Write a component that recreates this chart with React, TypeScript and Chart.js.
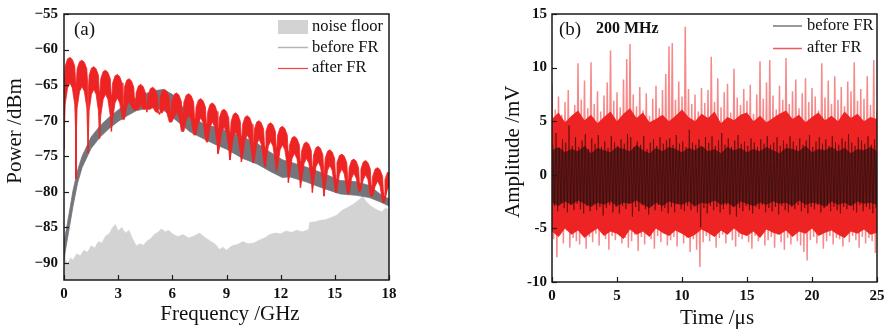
import React, { useEffect, useRef } from "react";
import { Chart, registerables } from "chart.js";
Chart.register(...registerables);

const SERIF = '"Liberation Serif", "Times New Roman", serif';

// ---------------- Panel (a): spectra ----------------
const freqTicks = [0, 3, 6, 9, 12, 15, 18];
const powerTicks = [-90, -85, -80, -75, -70, -65, -60, -55];

const noiseFreq = [0, 0.08, 0.2, 0.35, 0.5, 0.7, 0.9, 1.1, 1.3, 1.5, 1.7, 1.9, 2.1, 2.3, 2.5, 2.7, 2.85, 3.0, 3.2, 3.4, 3.6, 3.8, 4.0, 4.2, 4.4, 4.6, 4.8, 5.0, 5.2, 5.4, 5.6, 5.8, 6.0, 6.3, 6.6, 6.9, 7.2, 7.5, 7.8, 8.1, 8.4, 8.6, 8.8, 9.0, 9.3, 9.6, 9.9, 10.2, 10.5, 10.8, 11.1, 11.4, 11.7, 12.0, 12.3, 12.6, 12.9, 13.2, 13.55, 13.6, 13.9, 14.2, 14.5, 14.8, 15.1, 15.4, 15.7, 16.0, 16.3, 16.55, 16.75, 17.0, 17.3, 17.6, 17.8, 18.0];
const noiseLevel = [-87.2, -89.5, -90.1, -89.3, -89.6, -88.7, -89.0, -88.2, -88.5, -87.6, -87.9, -87.0, -87.2, -86.2, -85.9, -85.0, -84.6, -85.5, -85.0, -85.8, -85.4, -86.6, -87.6, -87.3, -87.5, -86.9, -86.6, -86.0, -85.7, -85.2, -85.6, -85.4, -85.9, -86.3, -86.0, -86.5, -86.2, -85.8, -86.4, -86.9, -87.4, -88.1, -87.8, -88.2, -87.6, -87.4, -87.0, -87.3, -87.2, -86.8, -86.5, -86.0, -85.8, -85.9, -85.5, -85.7, -85.4, -85.6, -85.3, -84.3, -84.2, -84.0, -83.9, -83.6, -83.3, -82.6, -82.2, -81.8, -81.2, -80.7, -81.4, -82.0, -82.5, -82.8, -82.3, -82.5];

const beforeFreq = [0, 0.15, 0.3, 0.5, 0.75, 1.0, 1.5, 2.0, 2.5, 3.0, 3.5, 4.0, 4.5, 5.0, 5.5, 6.0, 7.0, 7.7, 8.35, 9.0, 9.9, 10.7, 11.4, 12.1, 12.5, 13.4, 14.35, 15.3, 16.2, 16.9, 17.5, 18];
const beforeUpper = [-87, -85, -82.8, -79.8, -77, -75, -72.3, -70.7, -69.5, -68.5, -67.5, -66.8, -66.2, -65.8, -65.6, -66.3, -69.4, -70.4, -70.9, -71.4, -72.3, -73.2, -74.4, -75.5, -75.8, -76.5, -77.4, -78.4, -78.6, -79.1, -80.3, -81];
const beforeLower = [-89.5, -87.2, -85, -82, -78.8, -76.6, -73.9, -72.3, -71.1, -70.1, -69.3, -68.6, -68.3, -68.2, -68.5, -69.5, -71.6, -72.5, -73.3, -74, -75.3, -76.1, -77.1, -78, -77.9, -78.6, -79.5, -80.3, -80.5, -80.8, -81.4, -82];

// after FR: comb notches and lobe envelopes
const dipFreq = [0.66, 1.33, 1.97, 2.63, 3.28, 3.93, 4.58, 5.25, 5.9, 6.57, 7.25, 7.9, 8.54, 9.19, 9.83, 10.48, 11.12, 11.77, 12.43, 13.1, 13.76, 14.4, 15.05, 15.73, 16.38, 17.03, 17.71];
const dipLevel = [-78.2, -74.5, -72.5, -71.5, -69.8, -68.5, -68.4, -68.9, -70.2, -71.5, -72.0, -73.0, -74.6, -75.5, -75.8, -75.9, -76.4, -77.1, -78.7, -79.4, -80.1, -80.6, -80.1, -80.3, -79.9, -80.6, -81.5];
const lobeTop = [-61.1, -61.5, -62.4, -62.9, -63.5, -64.1, -64.9, -65.3, -65.6, -66.1, -66.2, -66.9, -67.5, -68.4, -68.9, -69.3, -70.0, -70.3, -70.8, -72.2, -73.0, -73.6, -74.1, -74.7, -75.4, -75.6, -76.6, -77.1];
const lobeBase = [-64.7, -65.2, -65.6, -66.3, -66.8, -67.3, -67.7, -68.0, -68.3, -68.8, -69.2, -69.6, -70.2, -70.9, -71.6, -72.0, -72.6, -72.9, -73.4, -74.6, -75.3, -75.8, -76.3, -76.8, -77.4, -77.6, -78.5, -79.0];
const afterStartLevel = -74;
const lobePeriod = 0.656;

// ---------------- Panel (b): time traces ----------------
const timeTicks = [0, 5, 10, 15, 20, 25];
const ampTicks = [-10, -5, 0, 5, 10, 15];
const sampleStep = 0.25; // µs between listed extremes
const coreStep = 0.5; // µs between listed core-envelope values

const afterPeakHi = [
  8.4, 6.1, 7.3, 5.6, 6.8, 7.9, 5.2, 6.5, 10.4, 7.0, 8.8, 6.2, 10.5, 6.6, 7.8, 5.9,
  7.4, 8.6, 11.6, 6.9, 7.7, 6.3, 8.9, 10.8, 12.2, 7.5, 6.4, 8.2, 6.0, 7.6, 5.5, 7.1,
  8.3, 6.2, 7.9, 9.4, 12.0, 12.3, 7.0, 8.7, 7.3, 13.8, 8.0, 6.6, 7.5, 5.9, 8.1, 6.7,
  7.9, 11.0, 6.8, 9.0, 6.3, 7.7, 8.5, 5.8, 9.9, 7.2, 6.5, 8.0, 6.9, 8.4, 5.7, 7.5,
  10.6, 7.1, 8.6, 10.7, 7.4, 6.1, 8.3, 7.0, 10.9, 6.6, 7.8, 8.9, 6.2, 7.6, 9.0, 6.8,
  8.1, 7.3, 6.0, 10.4, 7.2, 8.8, 6.6, 9.2, 7.0, 8.2, 6.4, 8.7, 7.8, 10.5, 6.9, 8.0,
  7.1, 9.2, 6.5, 10.7, 6.0,
];
const afterPeakLo = [
  -6.0, -7.7, -5.6, -6.4, -5.2, -6.8, -5.9, -6.2, -6.5, -5.4, -6.9, -5.8, -6.3, -5.5, -6.6, -5.3,
  -6.0, -7.0, -5.7, -6.1, -5.4, -6.4, -5.9, -6.8, -6.2, -5.6, -7.1, -5.8, -6.5, -5.3, -6.0, -6.9,
  -5.7, -6.3, -5.5, -6.6, -6.1, -5.8, -6.7, -5.4, -6.4, -5.9, -7.2, -6.0, -7.0, -8.6, -6.3, -5.7,
  -6.2, -5.5, -6.8, -5.9, -5.6, -6.4, -5.2, -6.1, -6.7, -5.8, -6.0, -5.4, -6.3, -6.9, -5.7, -6.2,
  -5.5, -6.6, -6.1, -5.8, -6.8, -5.6, -6.3, -7.0, -5.9, -6.5, -5.4, -6.2, -6.6, -7.2, -8.0, -6.1,
  -5.8, -6.4, -5.6, -6.9, -6.2, -5.7, -6.5, -5.9, -6.0, -6.7, -5.5, -6.3, -5.7, -6.1, -6.8, -5.8,
  -6.4, -5.9, -6.2, -7.3, -6.0,
];
const afterCoreHi = [5.2, 5.8, 4.9, 5.5, 6.0, 5.1, 5.6, 4.8, 5.4, 5.9, 5.0, 5.7, 6.2, 5.3, 5.8, 4.9, 5.2, 5.6, 5.0, 5.5, 6.1, 5.4, 5.0, 5.7, 5.3, 5.9, 4.8, 5.4, 5.1, 5.6, 5.8, 5.0, 5.5, 4.9, 5.3, 5.7, 6.0, 5.2, 5.6, 4.9, 5.4, 5.8, 5.1, 5.5, 5.0, 5.9, 5.3, 5.7, 5.0, 5.4, 5.2];
const afterCoreLo = [-5.3, -5.8, -5.0, -5.6, -5.2, -5.9, -5.4, -5.0, -5.7, -5.3, -5.5, -6.0, -5.1, -5.6, -5.3, -5.8, -5.0, -5.4, -5.7, -5.2, -5.5, -5.9, -5.6, -5.1, -5.4, -5.8, -5.2, -5.6, -5.0, -5.5, -5.7, -5.3, -5.9, -5.1, -5.4, -5.6, -5.2, -5.8, -5.3, -5.5, -5.0, -5.7, -5.4, -5.2, -5.6, -5.9, -5.3, -5.5, -5.1, -5.6, -5.4];

const beforePeakHi = [
  2.8, 3.9, 2.5, 3.3, 3.0, 4.6, 2.7, 3.5, 2.6, 3.2, 3.8, 2.4, 3.4, 2.9, 3.7, 2.6,
  3.1, 2.5, 3.6, 3.0, 2.7, 3.3, 2.9, 3.8, 3.5, 2.6, 3.1, 2.8, 3.6, 2.4, 3.0, 3.3,
  2.7, 3.5, 2.9, 3.2, 3.4, 2.8, 3.7, 2.9, 3.1, 2.6, 4.2, 3.0, 2.8, 3.3, 2.6, 3.5,
  3.0, 3.6, 2.7, 3.2, 3.9, 2.8, 3.4, 2.6, 3.2, 3.7, 2.9, 3.1, 2.7, 3.4, 3.0, 2.6,
  3.3, 2.9, 3.6, 2.8, 3.0, 3.5, 2.7, 3.2, 2.9, 3.6, 3.1, 2.7, 3.4, 2.8, 3.2, 3.7,
  2.6, 3.1, 3.5, 2.9, 3.3, 2.7, 3.6, 3.0, 2.8, 3.4, 3.1, 3.8, 3.0, 2.7, 3.5, 3.2,
  2.9, 3.6, 2.8, 3.3, 3.0,
];
const beforePeakLo = [
  -2.9, -3.4, -2.6, -3.1, -3.5, -2.8, -3.3, -2.7, -3.2, -3.6, -2.9, -3.4, -2.7, -3.3, -3.0, -3.8,
  -3.1, -2.8, -3.5, -3.0, -3.6, -2.9, -3.2, -2.7, -3.9, -3.0, -3.4, -2.8, -3.2, -3.7, -2.9, -3.3,
  -2.8, -3.4, -3.1, -3.6, -3.0, -3.5, -2.7, -3.2, -3.4, -2.9, -3.3, -3.0, -3.5, -4.9, -3.1, -3.6,
  -2.9, -3.3, -3.0, -3.5, -3.2, -2.8, -3.7, -3.0, -3.9, -3.1, -3.4, -2.9, -3.3, -3.6, -3.0, -3.2,
  -2.8, -3.5, -3.1, -3.4, -3.0, -3.7, -2.9, -3.3, -3.5, -3.0, -3.2, -2.8, -3.4, -3.1, -3.6, -3.0,
  -3.2, -2.8, -3.5, -3.1, -2.9, -3.4, -3.0, -3.3, -3.6, -3.0, -3.2, -2.9, -3.3, -3.5, -2.8, -3.4,
  -3.0, -3.2, -3.6, -3.1, -3.3,
];
const beforeCoreHi = [2.3, 2.6, 2.1, 2.4, 2.2, 2.7, 2.0, 2.5, 2.3, 2.1, 2.6, 2.4, 2.2, 2.8, 2.3, 2.0, 2.5, 2.2, 2.6, 2.4, 2.1, 2.5, 2.3, 2.7, 2.2, 2.4, 2.0, 2.6, 2.3, 2.5, 2.1, 2.4, 2.2, 2.6, 2.3, 2.0, 2.5, 2.4, 2.2, 2.7, 2.1, 2.4, 2.3, 2.6, 2.2, 2.5, 2.0, 2.4, 2.3, 2.6, 2.2];
const beforeCoreLo = [-2.6, -2.9, -2.5, -2.8, -2.4, -2.7, -3.0, -2.6, -2.8, -2.5, -2.9, -2.6, -2.7, -2.4, -2.8, -3.1, -2.6, -2.9, -2.5, -2.7, -2.8, -2.5, -2.9, -2.6, -2.7, -2.4, -2.8, -2.6, -3.0, -2.5, -2.7, -2.9, -2.6, -2.8, -2.5, -2.7, -2.6, -2.9, -2.4, -2.8, -2.6, -2.7, -3.0, -2.5, -2.8, -2.6, -2.9, -2.5, -2.7, -2.6, -2.8];

// ---------------- helpers ----------------
type P = { x: number; y: number };
const zip = (xs: number[], ys: number[]): P[] => xs.map((x, i) => ({ x, y: ys[i] }));
const stepped = (ys: number[], step: number): P[] => ys.map((y, i) => ({ x: i * step, y }));

function buildAfterBand() {
  const hi: P[] = [];
  const lo: P[] = [];
  const add = (x: number, h: number, l: number) => {
    hi.push({ x, y: h });
    lo.push({ x, y: l });
  };
  // lobe shape: [fraction of lobe, drop of top, drop of inner edge]
  const shape = [
    [0.025, 3.5, 7],
    [0.1, 1.2, 3],
    [0.3, 0.2, 0.7],
    [0.5, 0, 0],
    [0.7, 0.3, 0.7],
    [0.9, 1.2, 3],
    [0.975, 3.5, 7],
  ];
  const n = dipFreq.length;
  for (let i = 0; i <= n; i++) {
    const a = i === 0 ? 0 : dipFreq[i - 1];
    const b = i === n ? a + lobePeriod : dipFreq[i];
    const left = i === 0 ? afterStartLevel : dipLevel[i - 1];
    const right = i === n ? -100 : dipLevel[i];
    add(a, left, left);
    let stopped = false;
    for (const [f, dh, dl] of shape) {
      const x = a + f * (b - a);
      if (x > 18) {
        stopped = true;
        break;
      }
      const edge = f < 0.5 ? left : right;
      add(x, lobeTop[i] - dh, Math.max(lobeBase[i] - dl, edge));
    }
    if (stopped) add(18, lobeTop[i] - 0.1, lobeBase[i] - 0.3);
  }
  return { hi, lo };
}

function zigzag(his: number[], los: number[], offset: number): P[] {
  const out: P[] = [];
  his.forEach((h, i) => {
    out.push({ x: i * sampleStep + offset, y: h });
    out.push({ x: i * sampleStep + offset + sampleStep / 2, y: los[i] });
  });
  return out;
}

function line(ctx: CanvasRenderingContext2D, x1: number, y1: number, x2: number, y2: number) {
  ctx.beginPath();
  ctx.moveTo(x1, y1);
  ctx.lineTo(x2, y2);
  ctx.stroke();
}

function text(ctx: CanvasRenderingContext2D, s: string, x: number, y: number, font: string, align: CanvasTextAlign = "left", rot = 0) {
  ctx.save();
  ctx.font = font;
  ctx.fillStyle = "#111";
  ctx.textAlign = align;
  ctx.textBaseline = "middle";
  ctx.translate(x, y);
  if (rot) ctx.rotate(rot);
  ctx.fillText(s, 0, 0);
  ctx.restore();
}

const TICK_FONT = `bold 15px ${SERIF}`;

function frameAndTicks(chart: any, xt: number[], yt: number[], yLabel: (v: number) => string, yLabelX: number, xLabelY: number) {
  const { ctx, chartArea: a, scales } = chart;
  ctx.save();
  ctx.strokeStyle = "#1a1a1a";
  ctx.lineWidth = 1.2;
  for (const v of xt) {
    const x = Math.round(scales.x.getPixelForValue(v)) + 0.5;
    line(ctx, x, a.bottom, x, a.bottom - 5);
    text(ctx, String(v), scales.x.getPixelForValue(v), xLabelY, TICK_FONT, "center");
  }
  for (const v of yt) {
    const y = Math.round(scales.y.getPixelForValue(v)) + 0.5;
    line(ctx, a.left, y, a.left + 5, y);
    text(ctx, yLabel(v), yLabelX, scales.y.getPixelForValue(v), TICK_FONT, "right");
  }
  ctx.lineWidth = 1.5;
  ctx.strokeRect(a.left, a.top, a.right - a.left, a.bottom - a.top);
  ctx.restore();
}

const RED = "#ee2424";
const GRAY = "#74757a";
const NOISE = "#d3d3d3";

function baseScales(xMin: number, xMax: number, yMin: number, yMax: number, yWidth: number, xHeight: number, xt: number[], yt: number[]) {
  return {
    x: {
      type: "linear",
      min: xMin,
      max: xMax,
      grid: { display: false, drawTicks: false },
      border: { display: false },
      ticks: { display: false },
      afterBuildTicks: (s: any) => {
        s.ticks = xt.map((v) => ({ value: v }));
      },
      afterFit: (s: any) => {
        s.height = xHeight;
      },
    },
    y: {
      type: "linear",
      min: yMin,
      max: yMax,
      grid: { display: false, drawTicks: false },
      border: { display: false },
      ticks: { display: false },
      afterBuildTicks: (s: any) => {
        s.ticks = yt.map((v) => ({ value: v }));
      },
      afterFit: (s: any) => {
        s.width = yWidth;
      },
    },
  };
}

function PanelA() {
  const ref = useRef<HTMLCanvasElement>(null);
  useEffect(() => {
    const band = buildAfterBand();
    const decor = {
      id: "decorA",
      afterDraw(chart: any) {
        frameAndTicks(chart, freqTicks, powerTicks, (v) => (v < 0 ? "\u2212" + Math.abs(v) : String(v)), 58, 294);
        const ctx = chart.ctx as CanvasRenderingContext2D;
        text(ctx, "Power /dBm", 15, 131, `21px ${SERIF}`, "center", -Math.PI / 2);
        text(ctx, "Frequency /GHz", 230, 314, `21px ${SERIF}`, "center");
        text(ctx, "(a)", 74, 30, `19px ${SERIF}`, "left");
        ctx.save();
        ctx.fillStyle = NOISE;
        ctx.fillRect(278, 20, 30, 14);
        ctx.strokeStyle = "#b4b4b4";
        ctx.lineWidth = 1.5;
        line(ctx, 278, 47.5, 308, 47.5);
        ctx.strokeStyle = "#f04444";
        ctx.lineWidth = 1.2;
        line(ctx, 278, 68.5, 308, 68.5);
        ctx.restore();
        const lf = `16.5px ${SERIF}`;
        text(ctx, "noise floor", 312, 27, lf);
        text(ctx, "before FR", 312, 48, lf);
        text(ctx, "after FR", 312, 68, lf);
      },
    };
    const chart = new Chart(ref.current!, {
      type: "line",
      data: {
        datasets: [
          { label: "after FR", data: band.hi, borderColor: RED, borderWidth: 0.8, backgroundColor: RED, fill: 1 },
          { label: "after FR lo", data: band.lo, borderColor: RED, borderWidth: 0.8, fill: false },
          { label: "before FR", data: zip(beforeFreq, beforeUpper), borderColor: GRAY, borderWidth: 0.8, backgroundColor: GRAY, fill: 3 },
          { label: "before FR lo", data: zip(beforeFreq, beforeLower), borderColor: GRAY, borderWidth: 0.8, fill: false },
          { label: "noise floor", data: zip(noiseFreq, noiseLevel), borderColor: NOISE, borderWidth: 0.5, backgroundColor: NOISE, fill: "start" },
        ],
      },
      options: {
        responsive: false,
        animation: false,
        events: [],
        layout: { padding: { left: 0, right: 61, top: 14, bottom: 0 } },
        elements: { point: { radius: 0 }, line: { tension: 0 } },
        plugins: { legend: { display: false }, tooltip: { enabled: false } },
        scales: baseScales(0, 18, -92.4, -55, 64, 53, freqTicks, powerTicks),
      },
      plugins: [decor],
    } as any);
    return () => chart.destroy();
  }, []);
  return <canvas ref={ref} width={450} height={333} style={{ position: "absolute", left: 0, top: 0, width: 450, height: 333 }} />;
}

function PanelB() {
  const ref = useRef<HTMLCanvasElement>(null);
  useEffect(() => {
    const decor = {
      id: "decorB",
      afterDraw(chart: any) {
        frameAndTicks(chart, timeTicks, ampTicks, (v) => String(v), 97, 296);
        const ctx = chart.ctx as CanvasRenderingContext2D;
        text(ctx, "Amplitude /mV", 63.5, 151.7, `21px ${SERIF}`, "center", -Math.PI / 2);
        text(ctx, "Time /\u03bcs", 267, 318, `21px ${SERIF}`, "center");
        text(ctx, "(b)", 109, 30, `19px ${SERIF}`, "left");
        text(ctx, "200 MHz", 146, 29, `bold 16px ${SERIF}`, "left");
        ctx.save();
        ctx.strokeStyle = "#555";
        ctx.lineWidth = 1.2;
        line(ctx, 323, 26, 352, 26);
        ctx.strokeStyle = "#f05a5a";
        ctx.lineWidth = 1.5;
        line(ctx, 323, 48.5, 352, 48.5);
        ctx.restore();
        const lf = `16.5px ${SERIF}`;
        text(ctx, "before FR", 357, 26, lf);
        text(ctx, "after FR", 357, 48, lf);
      },
    };
    const chart = new Chart(ref.current!, {
      type: "line",
      data: {
        datasets: [
          { label: "before FR", data: zigzag(beforePeakHi, beforePeakLo, 0.06), borderColor: "rgba(40,6,6,0.5)", borderWidth: 1, fill: false },
          { label: "before core", data: stepped(beforeCoreHi, coreStep), borderColor: "rgba(0,0,0,0)", borderWidth: 0, backgroundColor: "rgb(105,24,24)", fill: 2 },
          { label: "before core lo", data: stepped(beforeCoreLo, coreStep), borderColor: "rgba(0,0,0,0)", borderWidth: 0, fill: false },
          { label: "after core", data: stepped(afterCoreHi, coreStep), borderColor: "rgba(0,0,0,0)", borderWidth: 0, backgroundColor: RED, fill: 4 },
          { label: "after core lo", data: stepped(afterCoreLo, coreStep), borderColor: "rgba(0,0,0,0)", borderWidth: 0, fill: false },
          { label: "after FR", data: zigzag(afterPeakHi, afterPeakLo, 0), borderColor: "rgba(238,40,40,0.55)", borderWidth: 1.5, fill: false },
        ],
      },
      options: {
        responsive: false,
        animation: false,
        events: [],
        layout: { padding: { left: 0, right: 10, top: 14, bottom: 0 } },
        elements: { point: { radius: 0 }, line: { tension: 0 } },
        plugins: { legend: { display: false }, tooltip: { enabled: false } },
        scales: baseScales(0, 25, -10, 15, 102, 51, timeTicks, ampTicks),
      },
      plugins: [decor],
    } as any);
    return () => chart.destroy();
  }, []);
  return <canvas ref={ref} width={437} height={333} style={{ position: "absolute", left: 450, top: 0, width: 437, height: 333 }} />;
}

export default function App() {
  return (
    <div style={{ position: "fixed", left: 0, top: 0, width: 887, height: 333, background: "#fff", overflow: "hidden" }}>
      <PanelA />
      <PanelB />
    </div>
  );
}
